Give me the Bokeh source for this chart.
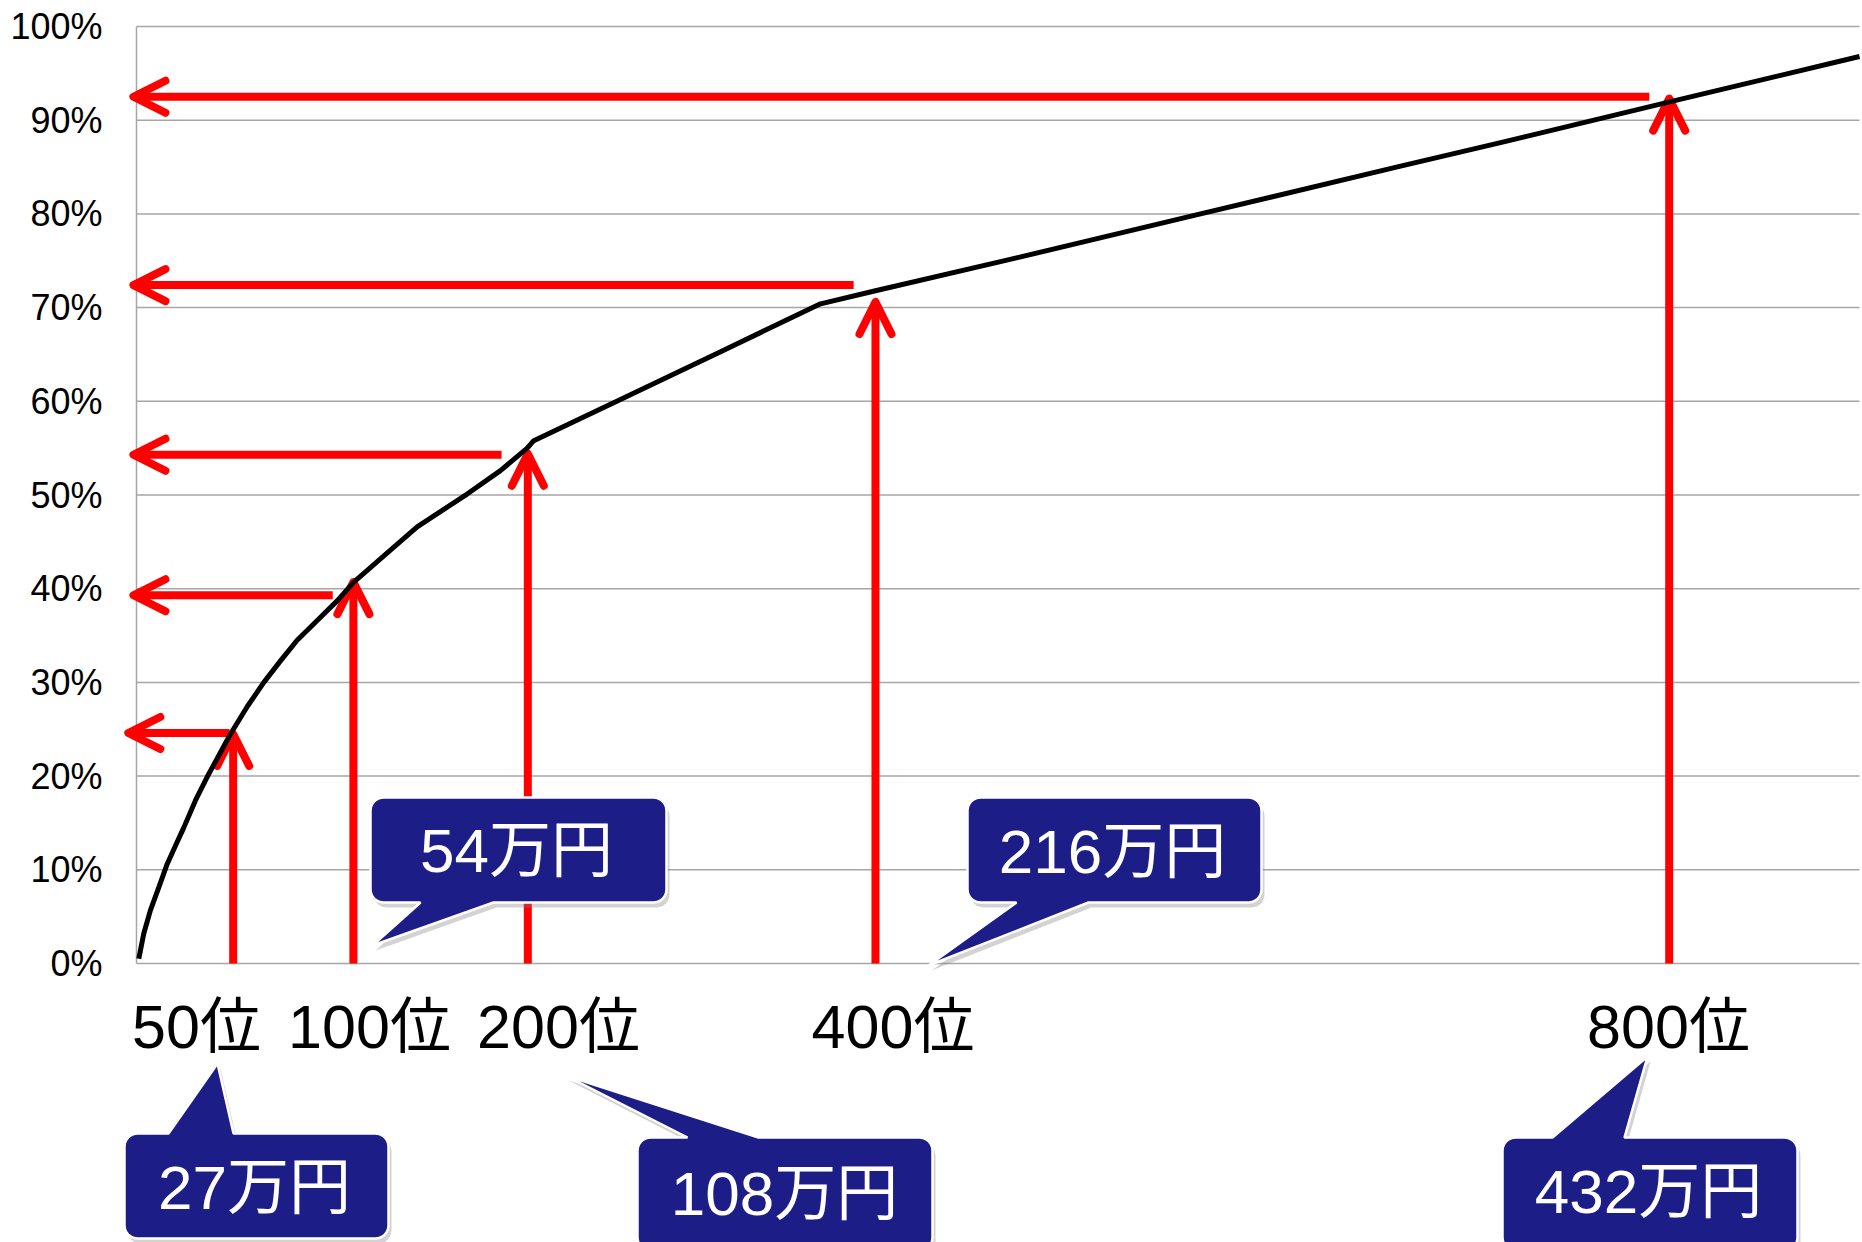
import math
from bokeh.plotting import figure
from bokeh.models import Range1d, FixedTicker, ColumnDataSource, Arrow, OpenHead, PolyAnnotation, Label
from bokeh.embed import file_html
from bokeh.resources import INLINE

# ---------------- data ----------------
y_ticks = [0, 10, 20, 30, 40, 50, 60, 70, 80, 90, 100]
y_tick_labels = ["0%", "10%", "20%", "30%", "40%", "50%", "60%", "70%", "80%", "90%", "100%"]

# cumulative share (%) against rank
curve_rank = [1.2, 3.8, 7.3, 11.6, 16.0, 20.4, 24.7, 30.8, 36.9, 43.0, 49.1, 57.8, 66.5,
              75.2, 83.9, 94.4, 104.8, 113.5, 129.2, 146.6, 172.7, 190.1, 204.1, 207.5,
              252.8, 305.1, 357.3, 386.0, 451.3, 555.8, 660.3, 712.5, 799.7, 900.0]
curve_share = [0.5, 3.2, 5.7, 8.1, 10.6, 12.6, 14.5, 17.4, 19.9, 22.2, 24.5, 27.4, 30.0,
               32.3, 34.5, 36.6, 38.7, 40.7, 43.5, 46.6, 50.1, 52.6, 55.0, 55.8,
               60.2, 65.3, 70.4, 71.8, 74.9, 80.0, 85.1, 87.6, 91.9, 96.8]

rank_labels = ["50位", "100位", "200位", "400位", "800位"]
rank_marks = [50.5, 113.3, 204.4, 386.0, 800.6]      # where the upward arrows stand
rank_share = [24.5, 40.7, 54.4, 70.6, 92.3]          # share reached by the upward arrows

share_levels = [24.6, 39.3, 54.3, 72.4, 92.5]        # levels of the leftward arrows
share_reach = [48.6, 102.5, 190.7, 374.6, 790.2]     # rank where each leftward arrow starts
share_tip = [-4.3, -1.6, -1.6, -1.6, -1.6]           # rank where each leftward arrow ends

income_labels = ["27万円", "54万円", "108万円", "216万円", "432万円"]

# ---------------- layout (reference screenshot pixels) ----------------
W, H = 1862, 1242
FL, FT, FB, FRX = 136, 26, 963, 1859      # where rank 0 / 100% / 0% / rank 900 sit
PXR = (FRX - FL) / 900.0
PYR = (FB - FT) / 100.0


def dx(px):
    return (px - FL) / PXR


def dy(py):
    return (FB - py) / PYR


RED = "#ff0000"
GRID = "#a6a6a6"
NAVY = "#1d1d87"
FONT = "'Liberation Sans', 'Noto Sans CJK JP'"


def base_fix(size):
    # Bokeh places the alphabetic baseline a little low for mixed Latin/CJK text
    return 0.367 * size


p = figure(width=W, height=H, x_range=Range1d(dx(0), dx(W)), y_range=Range1d(dy(H), dy(0)),
           output_backend="svg", toolbar_location=None, x_axis_location=None,
           title=None, min_border=0, min_border_left=0, min_border_right=0,
           min_border_top=0, min_border_bottom=0,
           outline_line_color=None, background_fill_color="white",
           border_fill_color="white")
p.xgrid.grid_line_color = None
p.ygrid.grid_line_color = None

ax = p.yaxis[0]
ax.fixed_location = 0
ax.bounds = (y_ticks[0], y_ticks[-1])
ax.ticker = FixedTicker(ticks=y_ticks)
ax.major_label_overrides = {t: s for t, s in zip(y_ticks, y_tick_labels)}
ax.major_tick_line_color = None
ax.minor_tick_line_color = None
ax.major_tick_out = 0
ax.major_tick_in = 0
ax.major_label_standoff = 34
ax.axis_line_color = GRID
ax.axis_line_width = 1.5
ax.major_label_text_font = "Liberation Sans"
ax.major_label_text_font_size = "36px"
ax.major_label_text_color = "black"

# horizontal gridlines from the axis to the end of the data
x_end = max(curve_rank)
p.segment(x0=[0] * len(y_ticks), x1=[x_end] * len(y_ticks), y0=y_ticks, y1=y_ticks,
          line_color=GRID, line_width=1.5)

# upward arrows
src_v = ColumnDataSource(dict(x0=rank_marks, y0=[0] * len(rank_marks), x1=rank_marks, y1=rank_share))
p.add_layout(Arrow(end=OpenHead(size=32, line_color=RED, line_width=8, line_cap="round", line_join="round"),
                   x_start="x0", y_start="y0", x_end="x1", y_end="y1",
                   line_color=RED, line_width=8, source=src_v))
# leftward arrows
src_h = ColumnDataSource(dict(x0=share_reach, y0=share_levels, x1=share_tip, y1=share_levels))
p.add_layout(Arrow(end=OpenHead(size=32, line_color=RED, line_width=8, line_cap="round", line_join="round"),
                   x_start="x0", y_start="y0", x_end="x1", y_end="y1",
                   line_color=RED, line_width=8, source=src_h))

# curve
p.line(curve_rank, curve_share, line_color="black", line_width=5, line_join="round", level="overlay")

# rank labels below the plot
rank_label_px = [196, 369, 558, 892.5, 1668]
for lab, cx in zip(rank_labels, rank_label_px):
    p.add_layout(Label(x=dx(cx), y=dy(1049 - base_fix(61)), text=lab, text_align="center",
                       text_baseline="alphabetic", text_font=FONT,
                       text_font_size="61px", text_color="black"))

# callouts: box (l, t, r, b), tail side, tail base x0, x1, tip, text centre x, baseline
callouts = [
    ((124, 1133, 388, 1238), "top", 168, 233, (217, 1063), 254, 1210),
    ((370, 797, 666, 902), "bottom", 420, 493, (372, 945), 516, 873),
    ((637, 1137, 932, 1250), "top", 687, 758, (565, 1075), 784, 1216),
    ((967, 797, 1261, 902), "bottom", 1016, 1088, (928, 965), 1112, 874),
    ((1502, 1137, 1797, 1250), "top", 1552, 1624, (1647, 1056), 1648, 1214),
]


def outline(l, t, r, b, side, b0, b1, tip, rad=13):
    pts = []

    def arc(cx, cy, a0, a1):
        for k in range(7):
            a = math.radians(a0 + (a1 - a0) * k / 6)
            pts.append((cx + rad * math.cos(a), cy + rad * math.sin(a)))

    arc(l + rad, t + rad, 180, 270)
    if side == "top":
        pts.extend([(b0, t), tip, (b1, t)])
    arc(r - rad, t + rad, 270, 360)
    arc(r - rad, b - rad, 0, 90)
    if side == "bottom":
        pts.extend([(b1, b), tip, (b0, b)])
    arc(l + rad, b - rad, 90, 180)
    return pts


for (box, side, b0, b1, tip, tx, ty), txt in zip(callouts, income_labels):
    pts = outline(*box, side, b0, b1, tip)
    p.add_layout(PolyAnnotation(xs=[dx(x + 3) for x, y in pts], ys=[dy(y + 5) for x, y in pts],
                                xs_units="data", ys_units="data",
                                fill_color="#808080", fill_alpha=0.35, line_color=None))
    p.add_layout(PolyAnnotation(xs=[dx(x) for x, y in pts], ys=[dy(y) for x, y in pts],
                                xs_units="data", ys_units="data",
                                fill_color=NAVY, fill_alpha=1.0, line_color="white",
                                line_width=2.5, line_alpha=1.0))
    p.add_layout(Label(x=dx(tx), y=dy(ty - base_fix(62)), text=txt, text_align="center",
                       text_baseline="alphabetic", text_font=FONT,
                       text_font_size="62px", text_color="white"))

open("out.html", "w").write(file_html(p, INLINE))
